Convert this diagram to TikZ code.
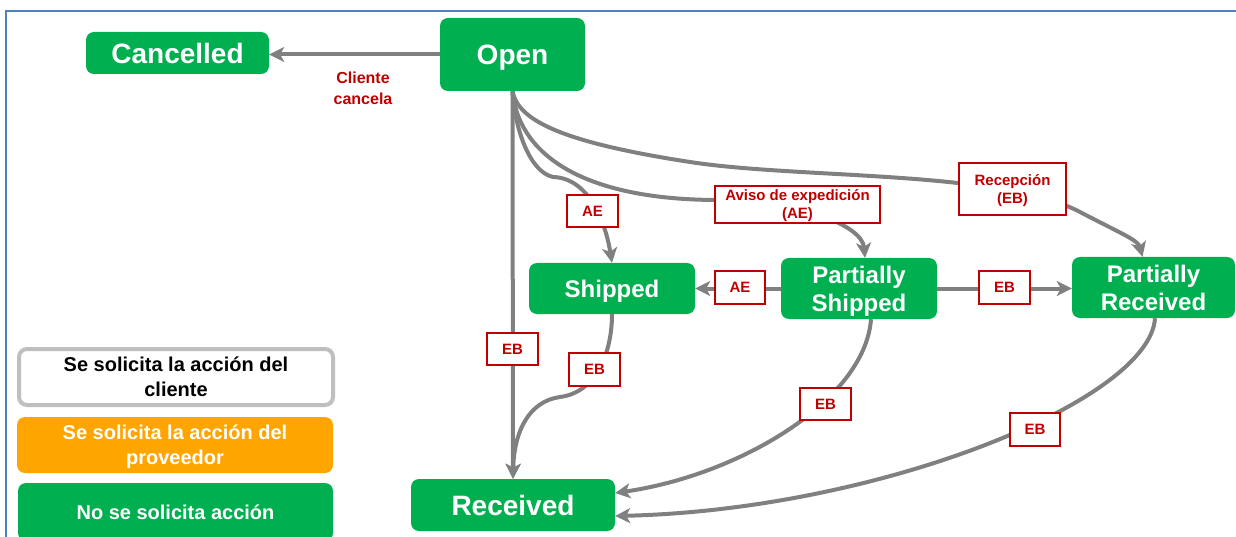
\documentclass[tikz,border=0pt]{standalone}
\usepackage{fontspec}
\setmainfont{Liberation Sans}
\usetikzlibrary{arrows.meta,backgrounds}
\definecolor{ogreen}{RGB}{0,176,80}
\definecolor{oorange}{RGB}{255,165,0}
\definecolor{ored}{RGB}{192,0,0}
\definecolor{ogray}{RGB}{128,128,128}
\definecolor{oblue}{RGB}{79,129,189}
\definecolor{lgray}{RGB}{191,191,191}
\begin{document}
\begin{tikzpicture}[x=1pt,y=-1pt,
 state/.style={fill=ogreen, rounded corners=8pt, text=white, align=center, inner sep=0pt,
   text depth=0pt, font=\bfseries\fontsize{24}{28}\selectfont},
 bigstate/.style={state, font=\bfseries\fontsize{28}{30}\selectfont},
 lbl/.style={draw=ored, line width=1.8pt, fill=white, text=ored, align=center, inner sep=0pt,
   text depth=0pt, font=\bfseries\fontsize{15}{18}\selectfont},
 conn/.style={draw=ogray, line width=4pt},
 arr/.style={conn, -{Stealth[length=15pt,width=15pt,inset=4pt]}},
 legend/.style={rounded corners=8pt, inner sep=0pt, align=center, text depth=0pt,
   font=\bfseries\fontsize{20}{25}\selectfont}
]
\useasboundingbox (0,0) rectangle (1236,537);
\draw[oblue, line width=2pt] (6,545) -- (6,11) -- (1245,11);

% states
\node[bigstate, minimum width=183pt, minimum height=42pt] (cancelled) at (177.5,53) {Cancelled};
\node[bigstate, minimum width=145pt, minimum height=73pt] (open) at (512.5,54.5) {Open};
\node[state, minimum width=166pt, minimum height=51pt] (shipped) at (612,288.5) {Shipped};
\node[state, minimum width=156pt, minimum height=61pt] (pship) at (859,288.5) {Partially\\Shipped};
\node[state, minimum width=163pt, minimum height=61pt] (prec) at (1153.5,287.5) {Partially\\Received};
\node[bigstate, minimum width=204pt, minimum height=52pt] (received) at (513,505) {Received};

% legend
\node[legend, draw=lgray, line width=4pt, fill=white, text=black, minimum width=314pt, minimum height=56pt] (leg1) at (176,377) {Se solicita la acción del\\cliente};
\node[legend, fill=oorange, text=white, minimum width=316pt, minimum height=56pt] (leg2) at (175,445) {Se solicita la acción del\\proveedor};
\node[legend, fill=ogreen, text=white, minimum width=315pt, minimum height=58pt] (leg3) at (175.5,512) {No se solicita acción};

% labels
\node[text=ored, align=center, font=\bfseries\fontsize{16}{21}\selectfont] (cli) at (363,88) {Cliente\\cancela};
\node[lbl, minimum width=51pt, minimum height=32pt] (lAE1) at (592.5,211) {AE};
\node[lbl, minimum width=165pt, minimum height=37pt] (lAviso) at (797.5,204.5) {Aviso de expedición\\(AE)};
\node[lbl, minimum width=107pt, minimum height=52pt] (lRec) at (1012.5,189) {Recepción\\(EB)};
\node[lbl, minimum width=50pt, minimum height=33pt] (lAE2) at (740,287.5) {AE};
\node[lbl, minimum width=51pt, minimum height=33pt] (lEB1) at (1004.5,287.5) {EB};
\node[lbl, minimum width=51pt, minimum height=32pt] (lEB2) at (512.5,349) {EB};
\node[lbl, minimum width=51pt, minimum height=33pt] (lEB3) at (594.5,369.5) {EB};
\node[lbl, minimum width=51pt, minimum height=32pt] (lEB4) at (825.5,404) {EB};
\node[lbl, minimum width=50pt, minimum height=33pt] (lEB5) at (1035,429.5) {EB};

\begin{scope}[on background layer]
\draw[arr] (open.west) -- (open.west -| cancelled.east);
\draw[arr] (open.south) -- (received.north);
\draw[arr] (open.south) .. controls (515,130) and (530,172) .. (553,177)
   .. controls (590,178) and (606,225) .. (shipped.north);
\draw[arr] (open.south) .. controls (518,150) and (575,199) .. (715,200)
   .. controls (800,201) and (862,225) .. ([xshift=6pt]pship.north);
\draw[arr] (open.south) .. controls (518,120) and (560,142) .. (690,162)
   .. controls (800,179) and (1000,170) .. (1080,212)
   .. controls (1120,233) and (1138,240) .. ([xshift=-11pt]prec.north);
\draw[arr] (pship.west) -- (shipped.east);
\draw[arr] (pship.east) -- (pship.east -| prec.west);
\draw[arr] (shipped.south) .. controls (612,350) and (598,392) .. (560,397)
   .. controls (530,401) and (514,430) .. (received.north);
\draw[arr] ([xshift=12pt]pship.south) .. controls (865,400) and (740,475) .. ([yshift=12pt]received.east);
\draw[arr] ([xshift=1.5pt]prec.south) .. controls (1150,400) and (880,510) .. ([yshift=-11pt]received.east);
\end{scope}
\end{tikzpicture}
\end{document}
